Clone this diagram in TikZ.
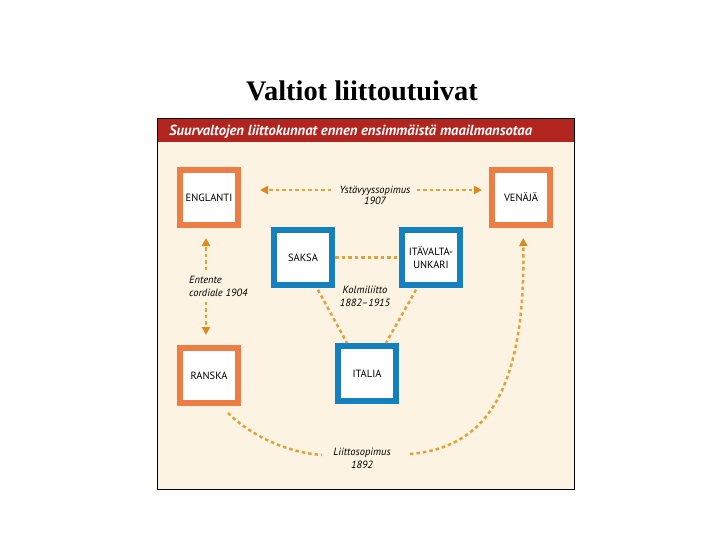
\documentclass[tikz,border=0pt]{standalone}
\usepackage{fontspec}
\setmainfont{Liberation Serif}
\newfontfamily\panelfont{PT Sans}
\usetikzlibrary{arrows.meta}
\definecolor{bgc}{HTML}{FDF3E2}
\definecolor{hdr}{HTML}{B2251F}
\definecolor{orbox}{HTML}{EC7D45}
\definecolor{blbox}{HTML}{1480BF}
\definecolor{dotc}{HTML}{E2A23A}
\definecolor{tipc}{HTML}{DA8A1E}
\begin{document}
\begin{tikzpicture}[x=1pt,y=-1pt,
  box/.style={draw, fill=white, line width=6pt, minimum width=58pt, minimum height=55pt,
    inner sep=0pt, align=center, font=\panelfont\fontsize{10.5}{13}\selectfont},
  obox/.style={box, draw=orbox},
  bbox/.style={box, draw=blbox},
  lbl/.style={font=\panelfont\itshape\fontsize{10.5}{13}\selectfont, align=center, inner sep=1pt},
  dotline/.style={draw=dotc, line width=2.5pt, dash pattern=on 3.5pt off 3pt},
  arr/.style={dotline, -{Triangle[length=8pt,width=8pt,color=tipc]}}
]
\useasboundingbox (0,0) rectangle (720,540);
\fill[white] (0,0) rectangle (720,540);

\node[anchor=base, font=\bfseries\fontsize{28.4}{32}\selectfont] (title) at (362,101) {Valtiot liittoutuivat};

% panel
\fill[bgc] (157,119) rectangle (574,489);
\fill[hdr] (157,119) rectangle (574,142);
\draw[line width=1pt] (157,119) rectangle (574,489);
\node[anchor=base west, text=white, inner sep=0pt,
  font=\panelfont\bfseries\itshape\fontsize{14.6}{16}\selectfont] (hdrtext) at (169,136)
  {Suurvaltojen liittokunnat ennen ensimmäistä maailmansotaa};

% boxes
\node[obox] (ENG) at (209,197.5) {ENGLANTI};
\node[obox] (VEN) at (521,197.5) {VENÄJÄ};
\node[bbox] (SAK) at (303,257.5) {SAKSA};
\node[bbox] (ITU) at (431,257.5) {ITÄVALTA-\\UNKARI};
\node[obox] (RAN) at (209,375.5) {RANSKA};
\node[bbox] (ITA) at (367,373.5) {ITALIA};

% labels
\node[lbl, font=\panelfont\itshape\fontsize{10.5}{11}\selectfont] (lab1) at (375,195) {Ystävyyssopimus\\1907};
\node[lbl, align=left, anchor=west] (lab2) at (188,286.5) {Entente\\cordiale 1904};
\node[lbl] (lab4) at (365,296.5) {Kolmiliitto\\1882–1915};
\node[lbl] (lab3) at (362,458.5) {Liittosopimus\\1892};

% Ystävyyssopimus arrows
\draw[arr, shorten <=7pt, shorten >=19pt] ([yshift=5pt]lab1.west) -- ([yshift=5pt]lab1.west -| ENG.east);
\draw[arr, shorten <=5pt, shorten >=7pt] ([yshift=5pt]lab1.east) -- ([yshift=5pt]lab1.east -| VEN.west);

% Entente cordiale arrows
\coordinate (ex) at ([xshift=-3pt]ENG.south);
\coordinate (rx) at ([xshift=-3pt]RAN.north);
\draw[arr, shorten <=5pt, shorten >=10pt] (ex |- lab2.north) -- (ex);
\draw[arr, shorten <=4pt, shorten >=10pt] (rx |- lab2.south) -- (rx);

% Saksa - Itavalta
\draw[dotline] (SAK.east) -- (ITU.west);

% Kolmiliitto
\draw[dotline, shorten <=2pt] ([xshift=14pt]SAK.south) -- ([xshift=-20pt]ITA.north);
\draw[dotline, shorten <=2pt] ([xshift=-14pt]ITU.south) -- ([xshift=19pt]ITA.north);

% Liittosopimus
\coordinate (l3a) at (322,455);
\coordinate (l3b) at (410,454);
\draw[dotline] ([xshift=19pt,yshift=-7pt]RAN.south) .. controls (245,430) and (280,452) .. (l3a);
\draw[arr, shorten >=10pt] (l3b) .. controls (480,448) and (526,400) .. ([xshift=2pt]VEN.south);
\end{tikzpicture}
\end{document}
